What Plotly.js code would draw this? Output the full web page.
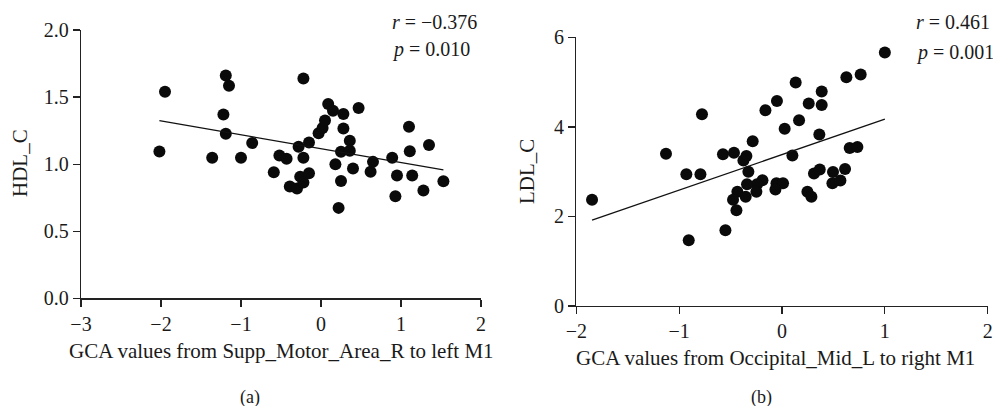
<!DOCTYPE html>
<html>
<head>
<meta charset="utf-8">
<script src="https://cdn.plot.ly/plotly-3.0.1.min.js"></script>
<style>html,body{margin:0;padding:0;background:#fff;}#chart{width:993px;height:406px;}</style>
</head>
<body>
<div id="chart"></div>
<script>
// Panel (a): GCA Supp_Motor_Area_R -> left M1 vs HDL_C
const gcaA = [-2.02,-1.95,-1.36,-1.19,-1.15,-1.22,-1.19,-1.00,-0.86,-0.59,-0.52,-0.43,-0.39,-0.30,-0.28,-0.22,-0.22,-0.26,-0.22,-0.15,-0.15,-0.03,0.02,0.05,0.09,0.15,0.28,0.28,0.18,0.25,0.25,0.36,0.36,0.40,0.47,0.62,0.65,0.89,0.95,1.10,1.11,1.14,1.35,1.28,1.53,0.93,0.22];
const hdlC = [1.094,1.54,1.047,1.66,1.585,1.37,1.226,1.047,1.157,0.94,1.064,1.04,0.833,0.818,1.129,1.639,1.047,0.907,0.863,0.933,1.161,1.231,1.269,1.325,1.448,1.398,1.373,1.266,1.0,0.875,1.092,1.174,1.10,0.967,1.418,0.943,1.017,1.047,0.915,1.278,1.097,0.915,1.142,0.803,0.873,0.761,0.674];

// Panel (b): GCA Occipital_Mid_L -> right M1 vs LDL_C
const gcaB = [1.0,0.626,0.765,0.133,0.386,0.386,0.26,-0.049,-0.161,-0.778,0.166,0.026,0.363,-0.285,-1.128,-0.574,-0.467,-0.346,-0.375,0.101,0.658,0.733,-0.93,-0.793,-0.327,-0.19,-0.243,-0.34,-0.054,0.01,-0.064,0.311,0.367,0.496,0.613,0.49,0.568,0.247,0.286,-0.249,-0.434,-0.353,-0.476,-1.847,-0.443,-0.907,-0.55];
const ldlC = [5.66,5.11,5.17,4.99,4.79,4.49,4.52,4.58,4.37,4.28,4.15,3.96,3.83,3.68,3.40,3.39,3.42,3.35,3.25,3.36,3.53,3.55,2.94,2.94,3.0,2.81,2.72,2.72,2.74,2.74,2.60,2.96,3.05,2.99,3.06,2.74,2.80,2.55,2.44,2.55,2.55,2.44,2.37,2.37,2.14,1.47,1.69];

const statsA = ["<i>r</i> = \u22120.376", "<i>p</i> = 0.010"];
const statsB = ["<i>r</i> = 0.461", "<i>p</i> = 0.001"];
const xTitleA = "GCA values from Supp_Motor_Area_R to left M1";
const xTitleB = "GCA values from Occipital_Mid_L to right M1";
const yTitleA = "HDL_C";
const yTitleB = "LDL_C";
const panelLabels = ["(a)", "(b)"];

function fit(xs, ys) {
  const n = xs.length;
  const mx = xs.reduce((a,b)=>a+b,0)/n, my = ys.reduce((a,b)=>a+b,0)/n;
  let sxy=0, sxx=0;
  for (let i=0;i<n;i++){ sxy+=(xs[i]-mx)*(ys[i]-my); sxx+=(xs[i]-mx)**2; }
  const b = sxy/sxx, a = my - b*mx;
  const x0 = Math.min(...xs), x1 = Math.max(...xs);
  return {x:[x0,x1], y:[a+b*x0, a+b*x1]};
}
const fA = fit(gcaA, hdlC), fB = fit(gcaB, ldlC);

const FONT = "Liberation Serif, Times New Roman, serif";
const TXT = '#1a1a1a';
const mk = {size: 12, color: '#0a0a0a', line:{width:0}};
const data = [
  {x: gcaA, y: hdlC, type:'scatter', mode:'markers', marker: mk, xaxis:'x', yaxis:'y', hoverinfo:'skip'},
  {x: fA.x, y: fA.y, type:'scatter', mode:'lines', line:{color:'#111', width:1.3}, xaxis:'x', yaxis:'y'},
  {x: gcaB, y: ldlC, type:'scatter', mode:'markers', marker: mk, xaxis:'x2', yaxis:'y2', hoverinfo:'skip'},
  {x: fB.x, y: fB.y, type:'scatter', mode:'lines', line:{color:'#111', width:1.3}, xaxis:'x2', yaxis:'y2'}
];

const W = 993, H = 406;
const axBase = {showgrid:false, zeroline:false, showline:true, linecolor:'#222', linewidth:1.3,
  ticks:'outside', ticklen:7, tickwidth:1.3, tickcolor:'#222', automargin:false,
  tickfont:{family:FONT, size:20, color:TXT}};
const ann = (text, x, y, opts) => Object.assign({text, xref:'paper', yref:'paper', x:x/W, y:1-y/H,
  xanchor:'center', yanchor:'middle', showarrow:false, font:{family:FONT, size:21, color:TXT}}, opts||{});
const layout = {
  width: W, height: H, margin:{l:0,r:0,t:0,b:0}, showlegend:false,
  paper_bgcolor:'#fff', plot_bgcolor:'#fff',
  font:{family:FONT, color:TXT},
  xaxis: Object.assign({}, axBase, {domain:[81/W, 481/W], range:[-3,2], tickvals:[-3,-2,-1,0,1,2], ticktext:['\u22123','\u22122','\u22121','0','1','2'], anchor:'y'}),
  yaxis: Object.assign({}, axBase, {domain:[(H-298.3)/H, (H-30)/H], range:[0,2], tickvals:[0,0.5,1,1.5,2], ticktext:['0.0','0.5','1.0','1.5','2.0'], anchor:'x'}),
  xaxis2: Object.assign({}, axBase, {domain:[576.3/W, 987.7/W], range:[-2,2], tickvals:[-2,-1,0,1,2], ticktext:['\u22122','\u22121','0','1','2'], anchor:'y2'}),
  yaxis2: Object.assign({}, axBase, {domain:[(H-306)/H, (H-37.3)/H], range:[0,6], tickvals:[0,2,4,6], anchor:'x2'}),
  annotations: [
    ann(statsA[0], 390, 21.7, {xanchor:'left', font:{family:FONT, size:20, color:TXT}}),
    ann(statsA[1], 390, 49, {xanchor:'left', font:{family:FONT, size:20, color:TXT}}),
    ann(statsB[0], 914, 21.7, {xanchor:'left', font:{family:FONT, size:20, color:TXT}}),
    ann(statsB[1], 914, 52, {xanchor:'left', font:{family:FONT, size:20, color:TXT}}),
    ann(xTitleA, 281, 350.7),
    ann(xTitleB, 775, 358),
    ann(yTitleA, 20, 163, {textangle:-90}),
    ann(yTitleB, 527, 172, {textangle:-90}),
    ann(panelLabels[0], 250, 397, {font:{family:FONT, size:18, color:TXT}}),
    ann(panelLabels[1], 761, 397, {font:{family:FONT, size:18, color:TXT}})
  ]
};
Plotly.newPlot('chart', data, layout, {staticPlot:true});
</script>
</body>
</html>
